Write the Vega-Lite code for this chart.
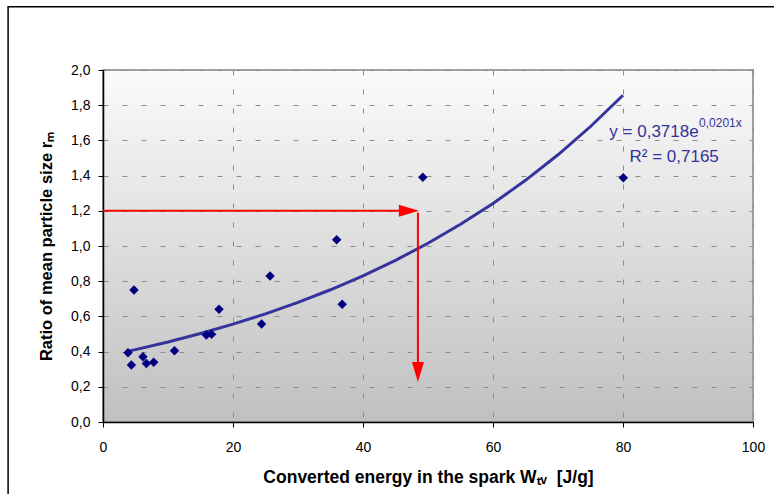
{
  "$schema": "https://vega.github.io/schema/vega-lite/v6.json",
  "width": 650,
  "height": 352,
  "autosize": {"type": "none"},
  "padding": {"left": 103, "top": 70, "right": 21, "bottom": 72},
  "background": "white",
  "view": {
    "fill": {"gradient": "linear", "x1": 0, "y1": 0, "x2": 0, "y2": 1,
      "stops": [{"offset": 0, "color": "#fbfbfb"}, {"offset": 1, "color": "#c0c0c0"}]},
    "stroke": "#a0a0a0",
    "strokeWidth": 2
  },
  "config": {
    "font": "Liberation Sans",
    "axis": {
      "domainColor": "#000000", "domainWidth": 1.5,
      "tickColor": "#000000", "tickSize": 5, "tickWidth": 1,
      "labelFont": "Liberation Sans", "labelFontSize": 14, "labelColor": "#000000",
      "labelOverlap": false, "labelFlush": false, "labelBound": false,
      "titleFont": "Liberation Sans", "titleFontSize": 16.5, "titleFontWeight": "bold", "titleColor": "#000000",
      "gridColor": "#8c8c8c", "gridDash": [5, 14], "gridWidth": 1
    }
  },
  "datasets": {
    "pts": [
      {"w": 3.85, "r": 0.394}, {"w": 4.37, "r": 0.324}, {"w": 4.77, "r": 0.75},
      {"w": 6.15, "r": 0.371}, {"w": 6.67, "r": 0.333}, {"w": 7.8, "r": 0.339},
      {"w": 11.0, "r": 0.405}, {"w": 15.9, "r": 0.494}, {"w": 16.7, "r": 0.498},
      {"w": 17.85, "r": 0.64}, {"w": 24.4, "r": 0.557}, {"w": 25.7, "r": 0.83},
      {"w": 35.95, "r": 1.036}, {"w": 36.8, "r": 0.669}, {"w": 49.2, "r": 1.39},
      {"w": 80.05, "r": 1.388}
    ],
    "trend": [
      {"w": 3.85, "r": 0.4017}, {"w": 5, "r": 0.4111}, {"w": 10, "r": 0.4546},
      {"w": 15, "r": 0.5026}, {"w": 20, "r": 0.5558}, {"w": 25, "r": 0.6145},
      {"w": 30, "r": 0.6795}, {"w": 35, "r": 0.7514}, {"w": 40, "r": 0.8308},
      {"w": 45, "r": 0.9186}, {"w": 50, "r": 1.0157}, {"w": 55, "r": 1.1231},
      {"w": 60, "r": 1.2418}, {"w": 65, "r": 1.3732}, {"w": 70, "r": 1.5183},
      {"w": 75, "r": 1.6789}, {"w": 80, "r": 1.8564}
    ],
    "arrowLines": [
      {"w": 0, "r": 1.2, "w2": 46.0, "r2": 1.2},
      {"w": 48.45, "r": 1.19, "w2": 48.45, "r2": 0.3}
    ],
    "headRight": [{"w": 48.6, "r": 1.2}],
    "headDown": [{"w": 48.45, "r": 0.227}],
    "frame": [{"w": -14.6, "r": 2.36, "w2": 130, "r2": -1}],
    "eq": [
      {"w": 77.9, "r": 1.648, "label": "y = 0,3718e"},
      {"w": 81.0, "r": 1.507, "label": "R² = 0,7165"}
    ],
    "eqsup": [
      {"w": 91.7, "r": 1.699, "label": "0,0201x"}
    ]
  },
  "encoding": {
    "x": {"field": "w", "type": "quantitative",
      "scale": {"domain": [0, 100], "nice": false, "zero": false},
      "axis": {"values": [0, 20, 40, 60, 80, 100], "grid": true, "labelPadding": 13, "titlePadding": 14,
        "titleFontSize": 17.5,
        "title": "Converted energy in the spark Wₜᵥ\u00a0 [J/g]"}},
    "y": {"field": "r", "type": "quantitative",
      "scale": {"domain": [0, 2], "nice": false, "zero": false},
      "axis": {"values": [0, 0.2, 0.4, 0.6, 0.8, 1.0, 1.2, 1.4, 1.6, 1.8, 2.0], "tickCount": 11, "grid": true,
        "labelExpr": "replace(format(datum.value, '.1f'), '.', ',')", "labelPadding": 8, "titlePadding": 16,
        "title": "Ratio of mean particle size rₘ"}}
  },
  "layer": [
    {
      "data": {"name": "trend"},
      "mark": {"type": "line", "color": "#34349c", "strokeWidth": 3}
    },
    {
      "data": {"name": "arrowLines"},
      "mark": {"type": "rule", "color": "#ff0000", "strokeWidth": 2},
      "encoding": {
        "x2": {"field": "w2"},
        "y2": {"field": "r2"}
      }
    },
    {
      "data": {"name": "headRight"},
      "mark": {"type": "point", "shape": "M-2,-0.6L0,0L-2,0.6Z", "filled": true, "color": "#ff0000", "opacity": 1, "size": 400}
    },
    {
      "data": {"name": "headDown"},
      "mark": {"type": "point", "shape": "M-0.6,-2L0,0L0.6,-2Z", "filled": true, "color": "#ff0000", "opacity": 1, "size": 400}
    },
    {
      "data": {"name": "pts"},
      "mark": {"type": "point", "shape": "diamond", "filled": true, "color": "#000080", "opacity": 1, "size": 90}
    },
    {
      "data": {"name": "eq"},
      "mark": {"type": "text", "align": "left", "baseline": "middle", "font": "Liberation Sans", "fontSize": 17, "color": "#333399"},
      "encoding": {"text": {"field": "label"}}
    },
    {
      "data": {"name": "eqsup"},
      "mark": {"type": "text", "align": "left", "baseline": "middle", "font": "Liberation Sans", "fontSize": 12, "color": "#333399"},
      "encoding": {"text": {"field": "label"}}
    },
    {
      "data": {"name": "frame"},
      "mark": {"type": "rect", "fill": null, "fillOpacity": 0, "stroke": "#000000", "strokeWidth": 1.5, "clip": false},
      "encoding": {
        "x2": {"field": "w2"},
        "y2": {"field": "r2"}
      }
    }
  ]
}
